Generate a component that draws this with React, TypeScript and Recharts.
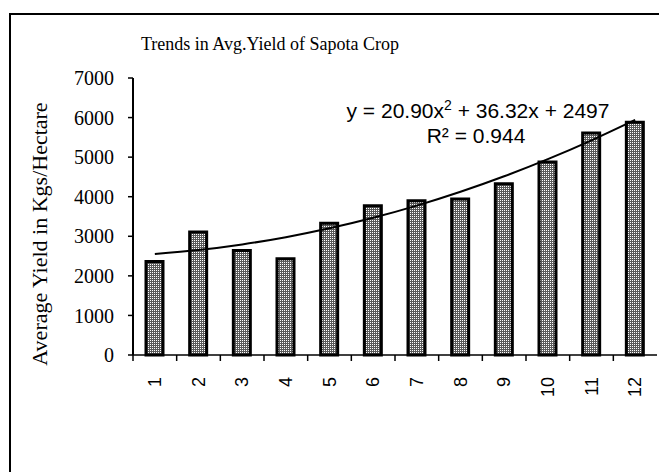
import { ComposedChart, Bar, Line, XAxis, YAxis } from 'recharts';

const years = ['1', '2', '3', '4', '5', '6', '7', '8', '9', '10', '11', '12'];
const avgYield = [2360, 3110, 2640, 2430, 3330, 3770, 3900, 3940, 4330, 4880, 5610, 5880];
// polynomial trendline (y = 20.90x² + 36.32x + 2497)
const trendYield = [2554, 2653, 2794, 2977, 3201, 3467, 3775, 4125, 4517, 4950, 5425, 5942];
const yTicks = [0, 1000, 2000, 3000, 4000, 5000, 6000, 7000];

const data = years.map((year, i) => ({ year, avg: avgYield[i], trend: trendYield[i] }));

const SERIF = '"Liberation Serif", "Times New Roman", serif';
const SANS = '"Liberation Sans", Arial, sans-serif';

// Excel style: tick marks sit between categories, labels rotated
const XTick = (props: any) => {
    const { x, y, payload } = props;
    const half = payload?.offset ?? 21.8;
    const lx = x + 6;
    const ly = y + 22;
    return (
        <g>
            <line x1={x - half} x2={x - half} y1={y} y2={y + 6} stroke="#000" strokeWidth={1.5} />
            <text
                x={lx}
                y={ly}
                transform={`rotate(-90 ${lx} ${ly})`}
                textAnchor="end"
                fontFamily={SANS}
                fontSize={18}
                fill="#000"
            >
                {payload.value}
            </text>
        </g>
    );
};

export default function App() {
    return (
        <div style={{ position: 'fixed', left: 0, top: 0, width: 659, height: 472, overflow: 'hidden', background: '#fff' }}>
            <div
                style={{
                    position: 'absolute', left: 9, top: 13, width: 720, height: 520,
                    border: '2px solid #000',
                }}
            />
            <div style={{ position: 'absolute', left: 0, top: 0 }}>
                <ComposedChart
                    width={659}
                    height={472}
                    data={data}
                    margin={{ top: 78, right: 2, bottom: 77, left: 73 }}
                >
                    <defs>
                        <pattern id="dots" width={2} height={2} patternUnits="userSpaceOnUse">
                            <rect width={2} height={2} fill="#5a5a5a" />
                            <rect width={1} height={1} fill="#fff" />
                        </pattern>
                    </defs>
                    <XAxis
                        dataKey="year"
                        height={40}
                        interval={0}
                        tickSize={0}
                        tickMargin={0}
                        tickLine={false}
                        tick={<XTick />}
                        axisLine={{ stroke: '#000', strokeWidth: 1.5 }}
                    />
                    <XAxis
                        xAxisId="top"
                        orientation="top"
                        dataKey="year"
                        height={0}
                        tick={false}
                        tickLine={false}
                        axisLine={{ stroke: '#8c8c8c', strokeWidth: 2.5 }}
                    />
                    <YAxis
                        width={60}
                        domain={[0, 7000]}
                        ticks={yTicks}
                        interval={0}
                        tickSize={5}
                        tickMargin={14}
                        tick={{ fill: '#000', fontSize: 20, fontFamily: SERIF }}
                        tickLine={{ stroke: '#000', strokeWidth: 1.5 }}
                        axisLine={{ stroke: '#000', strokeWidth: 2 }}
                    />
                    <YAxis
                        yAxisId="r"
                        orientation="right"
                        width={0}
                        domain={[0, 7000]}
                        tick={false}
                        tickLine={false}
                        axisLine={{ stroke: '#c8c8c8', strokeWidth: 1.5 }}
                    />
                    <Bar
                        dataKey="avg"
                        fill="url(#dots)"
                        stroke="#000"
                        strokeWidth={3}
                        barSize={17}
                        isAnimationActive={false}
                    />
                    <Line
                        dataKey="trend"
                        type="natural"
                        stroke="#000"
                        strokeWidth={2}
                        dot={false}
                        activeDot={false}
                        isAnimationActive={false}
                    />
                </ComposedChart>
            </div>
            <svg width={659} height={472} style={{ position: 'absolute', left: 0, top: 0, pointerEvents: 'none' }}>
                <text x={270} y={50} textAnchor="middle" fontFamily={SERIF} fontSize={18} fill="#000">
                    Trends in Avg.Yield of Sapota Crop
                </text>
                <text
                    x={47}
                    y={234}
                    transform="rotate(-90 47 234)"
                    textAnchor="middle"
                    fontFamily={SERIF}
                    fontSize={22}
                    fill="#000"
                >
                    Average Yield in Kgs/Hectare
                </text>
                <text x={478} y={118} textAnchor="middle" fontFamily={SANS} fontSize={21} fill="#000">
                    y = 20.90x<tspan fontSize={14} dy={-8}>2</tspan>
                    <tspan dy={8}> + 36.32x + 2497</tspan>
                </text>
                <text x={476} y={143} textAnchor="middle" fontFamily={SANS} fontSize={21} fill="#000">
                    R² = 0.944
                </text>
            </svg>
        </div>
    );
}
